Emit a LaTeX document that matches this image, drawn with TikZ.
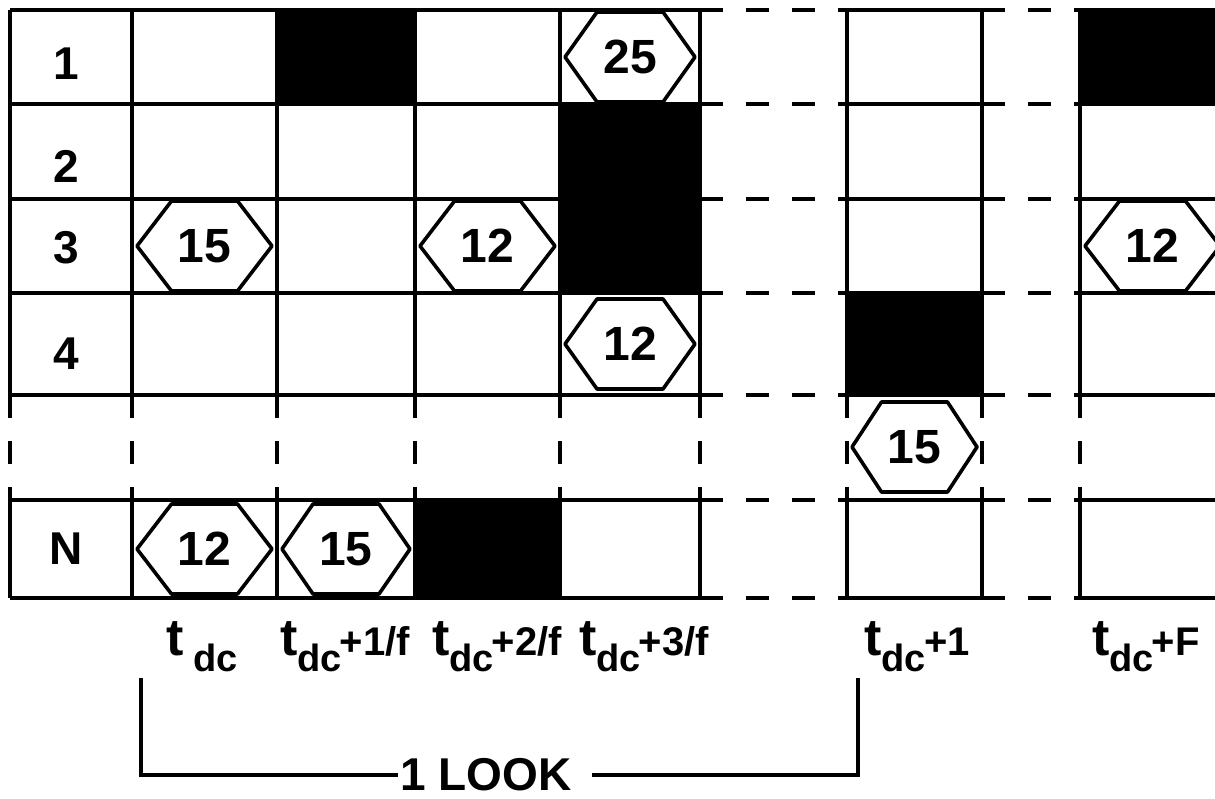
\documentclass[tikz,border=0pt]{standalone}
\usepackage{fontspec}
\setmainfont{Liberation Sans}

\tikzset{
  grid line/.style={line width=1.7pt},
  gap line/.style={line width=1.7pt, dash pattern=on 11.5pt off 11.5pt},
  hexbox/.style={line width=1.8pt, fill=white, line join=round},
  rowlabel/.style={font=\fontsize{23}{25}\selectfont\bfseries},
  hexlabel/.style={font=\fontsize{24}{26}\selectfont\bfseries},
  timelabel/.style={anchor=base, inner sep=0pt, font=\fontsize{20}{22}\selectfont\bfseries},
  looklabel/.style={inner sep=1pt, font=\fontsize{23}{25}\selectfont\bfseries},
}

% t with subscript dc
\newcommand{\tdc}{{\fontsize{26}{27}\selectfont t}\raisebox{-0.4em}{\fontsize{19}{21}\selectfont dc}}

% hexagon in a cell: left x, right x, centre y, number, name
\newcommand{\hexcell}[5]{%
  \draw[hexbox] ({#1+5},#3) -- ({(#1+#2)/2-33},{#3-45}) -- ({(#1+#2)/2+33},{#3-45})
    -- ({#2-5},#3) -- ({(#1+#2)/2+33},{#3+45}) -- ({(#1+#2)/2-33},{#3+45}) -- cycle;
  \node[hexlabel] (#5) at ({(#1+#2)/2},#3) {#4};
}

\begin{document}
\begin{tikzpicture}[x=0.5pt, y=-0.5pt]
      \useasboundingbox (0,0) rectangle (1215,798);
      \clip (0,0) rectangle (1215,798);

      % Busy slots
      \fill (277,10) rectangle (415,104);
      \fill (560,104) rectangle (700,293);
      \fill (847,293) rectangle (982,395);
      \fill (415,500) rectangle (560,598);
      \fill (1080,10) rectangle (1230,104);

      % Columns, broken between row 4 and row N
      \foreach \x in {10,132,277,415,560,700,847,982,1080}{
          \draw[grid line] (\x,10) -- (\x,395);
          \draw[gap line] (\x,395) -- (\x,500);
          \draw[grid line] (\x,500) -- (\x,598);
        }

      % Rows, dashed between the blocks
      \foreach \y in {10,104,199,293,395,500,598}{
          \draw[grid line] (10,\y) -- (700,\y);
          \draw[gap line] (700,\y) -- (847,\y);
          \draw[grid line] (847,\y) -- (982,\y);
          \draw[gap line] (982,\y) -- (1080,\y);
          \draw[grid line] (1080,\y) -- (1230,\y);
        }

      % Row numbers
      \foreach \lab/\y in {1/64, 2/166, 3/248, 4/354, N/549}{
          \node[rowlabel] (row\lab) at (66,\y) {\lab};
        }

      % Hexagons
      \hexcell{560}{700}{57}{25}{hexA}
      \hexcell{132}{277}{246}{15}{hexB}
      \hexcell{415}{560}{246}{12}{hexC}
      \hexcell{560}{700}{344}{12}{hexD}
      \hexcell{847}{982}{447}{15}{hexE}
      \hexcell{132}{277}{549}{12}{hexF}
      \hexcell{277}{415}{549}{15}{hexG}
      \hexcell{1080}{1225}{246}{12}{hexH}

      % Time labels
      \node[timelabel] (time0) at (202,655) {{\fontsize{26}{27}\selectfont t}\hspace{5pt}\raisebox{-0.4em}{\fontsize{19}{21}\selectfont dc}};
      \node[timelabel] (time1) at (345,655) {\tdc\kern-1pt+1/f};
      \node[timelabel] (time2) at (497,655) {\tdc\kern-1pt+2/f};
      \node[timelabel] (time3) at (644,655) {\tdc\kern-1pt+3/f};
      \node[timelabel] (time4) at (917,655) {\tdc\kern-1pt+1};
      \node[timelabel] (time5) at (1146,655) {\tdc\kern-1pt+F};

      % One look bracket
      \coordinate (lookL) at (141,678);
      \coordinate (lookR) at (858,678);
      \node[looklabel] (look) at (486,775) {1 LOOK};
      \draw[grid line] (lookL) |- (look.west);
      \draw[grid line, shorten <=9pt] (look.east) -| (lookR);

    \end{tikzpicture}
\end{document}
